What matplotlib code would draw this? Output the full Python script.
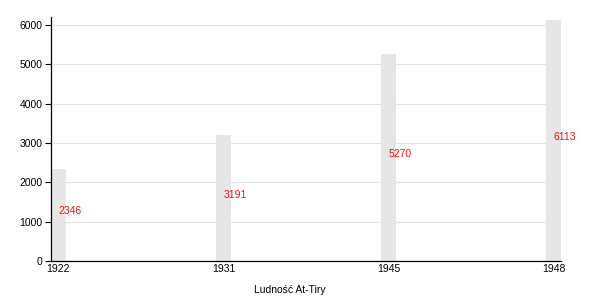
import matplotlib.pyplot as plt

plt.rcParams['font.family'] = ['Liberation Sans', 'DejaVu Sans']

years = ['1922', '1931', '1945', '1948']
population = [2346, 3191, 5270, 6113]
yticks = [0, 1000, 2000, 3000, 4000, 5000, 6000]

fig = plt.figure(figsize=(6, 3), dpi=100)
ax = fig.add_axes([51/600, 39/300, 510/600, 244/300])

pos = list(range(len(years)))
width = 0.09
ax.bar(pos, population, width, color='#e6e6e6', zorder=2)

# value labels sit halfway up each bar
for p, v in zip(pos, population):
    ax.annotate(str(v), (p, v / 2), xytext=(0, 2.5), textcoords='offset points',
                color='#ee1111', fontsize=7.5, ha='left', va='center', zorder=3)

ax.set_xlim(-width / 2, len(years) - 1 + width / 2)
ax.set_ylim(0, 6200)
ax.set_xticks(pos)
ax.set_xticklabels(years)
ax.set_yticks(yticks)
ax.tick_params(axis='x', length=0, pad=2, labelsize=7.5)
ax.tick_params(axis='y', length=4, width=0.8, pad=2, labelsize=7.5)
ax.yaxis.grid(True, color='#e3e3e3', linewidth=0.8, zorder=0)
ax.set_axisbelow(True)

for s in ['top', 'right']:
    ax.spines[s].set_visible(False)
ax.spines['left'].set_linewidth(0.9)
ax.spines['bottom'].set_linewidth(0.9)

ax.set_xlabel('Ludność At-Tiry', fontsize=7.5)
ax.xaxis.set_label_coords(0.468, -0.1)

plt.savefig('out.png', dpi=100)
